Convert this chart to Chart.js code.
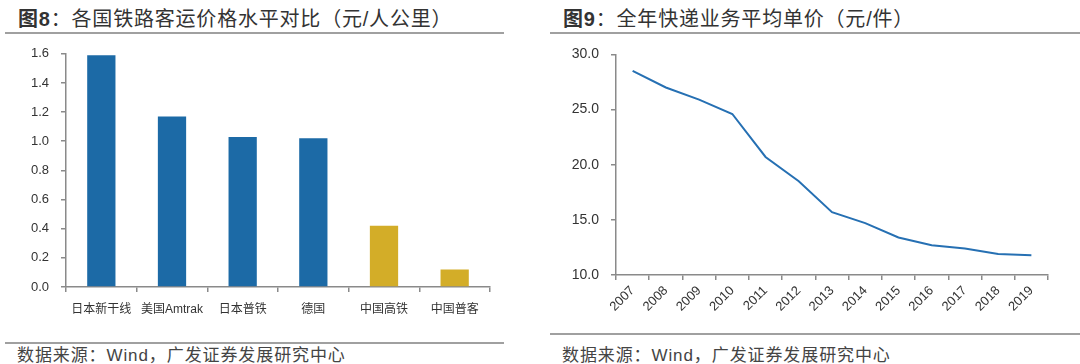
<!DOCTYPE html>
<html>
<head>
<meta charset="utf-8">
<script src="https://cdn.jsdelivr.net/npm/chart.js@4"></script>
<style>
  body { margin: 0; background: #fff; width: 1080px; height: 364px; position: relative; overflow: hidden;
         font-family: "Liberation Sans", "Noto Sans CJK SC", sans-serif; }
  .title { position: absolute; top: 3px; font-size: 20px; color: #333; white-space: nowrap; letter-spacing: 0.8px; }
  .title b { font-weight: bold; }
  .src { position: absolute; top: 341px; font-size: 17px; color: #444; white-space: nowrap; letter-spacing: 0.9px; }
  .rule { position: absolute; height: 2px; background: #a0a0a0; }
  canvas { position: absolute; }
</style>
</head>
<body>
<div class="title" style="left:18px"><b>图8</b>：各国铁路客运价格水平对比（元/人公里）</div>
<div class="title" style="left:563px"><b>图9</b>：全年快递业务平均单价（元/件）</div>
<div class="rule" style="left:5px;width:499px;top:32px"></div>
<div class="rule" style="left:550px;width:530px;top:32px"></div>
<canvas id="chart-1" width="520" height="290" style="left:0;top:34px"></canvas>
<canvas id="chart-2" width="540" height="290" style="left:540px;top:34px"></canvas>
<div class="rule" style="left:5px;width:499px;top:342px"></div>
<div class="rule" style="left:550px;width:530px;top:333px"></div>
<div class="src" style="left:17px">数据来源：Wind，广发证券发展研究中心</div>
<div class="src" style="left:562px">数据来源：Wind，广发证券发展研究中心</div>
<script>
const railLabels = ['日本新干线', '美国Amtrak', '日本普铁', '德国', '中国高铁', '中国普客'];
const railValues = [1.59, 1.17, 1.03, 1.02, 0.42, 0.12];

const years = ['2007', '2008', '2009', '2010', '2011', '2012', '2013', '2014', '2015', '2016', '2017', '2018', '2019'];
const parcelPrice = [28.5, 27.0, 25.9, 24.6, 20.7, 18.5, 15.7, 14.7, 13.4, 12.7, 12.4, 11.9, 11.8];

const BLUE = '#1c6aa6';
const GOLD = '#d3ad28';
const AXIS = '#8a8a8a';
const TEXT = '#333';

Chart.defaults.font.family = '"Liberation Sans", "Noto Sans CJK SC", sans-serif';
Chart.defaults.color = TEXT;

function axisX(height, extra) {
  return Object.assign({
    border: { color: AXIS, width: 1.5 },
    grid: { drawOnChartArea: false, color: AXIS, tickLength: 5, lineWidth: 1.5 },
    afterFit: s => { s.height = height; }
  }, extra);
}

function axisY(width, min, max, step, size) {
  return {
    min, max,
    border: { color: AXIS, width: 1.5 },
    grid: { drawOnChartArea: false, color: AXIS, tickLength: 5, lineWidth: 1.5 },
    ticks: { stepSize: step, padding: 12, font: { size }, callback: v => Number(v).toFixed(1) },
    afterFit: s => { s.width = width; }
  };
}

// 左图：柱状
new Chart(document.getElementById('chart-1'), {
  type: 'bar',
  data: {
    labels: railLabels,
    datasets: [{
      data: railValues,
      backgroundColor: ctx => railLabels[ctx.dataIndex].startsWith('中国') ? GOLD : BLUE,
      categoryPercentage: 1,
      barPercentage: 0.4
    }]
  },
  options: {
    responsive: false,
    animation: false,
    layout: { padding: { top: 6, right: 30, bottom: 0, left: 0 } },
    plugins: { legend: { display: false }, tooltip: { enabled: false } },
    scales: {
      x: axisX(37, { ticks: { padding: 10, font: { size: 12 }, autoSkip: false, maxRotation: 0 } }),
      y: axisY(66, 0, 1.6, 0.2, 13)
    }
  }
});

// 右图：折线
new Chart(document.getElementById('chart-2'), {
  type: 'line',
  data: {
    labels: years,
    datasets: [{
      data: parcelPrice,
      borderColor: '#2670b3',
      borderWidth: 2,
      pointRadius: 0,
      tension: 0
    }]
  },
  options: {
    responsive: false,
    animation: false,
    layout: { padding: { top: 6, right: 32, bottom: 0, left: 0 } },
    plugins: { legend: { display: false }, tooltip: { enabled: false } },
    scales: {
      x: axisX(49, {
        offset: true,
        grid: { drawOnChartArea: false, color: AXIS, tickLength: 5, lineWidth: 1.5, offset: true },
        ticks: { padding: 3, font: { size: 13 }, autoSkip: false, minRotation: 45, maxRotation: 45 }
      }),
      y: axisY(76, 10, 30, 5, 14)
    }
  }
});
</script>
</body>
</html>
